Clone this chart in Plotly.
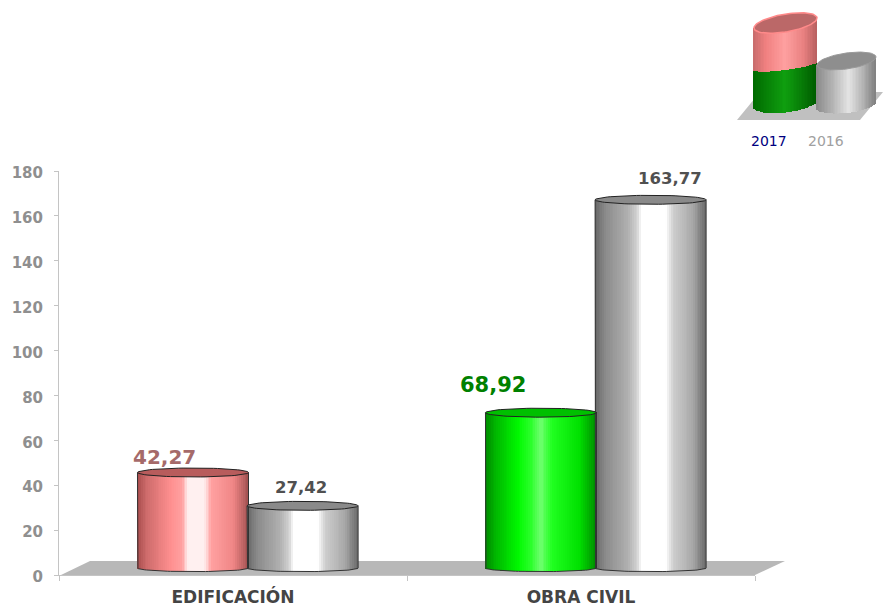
import numpy as np
import plotly.graph_objects as go

categories = ["EDIFICACIÓN", "OBRA CIVIL"]
values_2017 = [42.27, 68.92]
values_2016 = [27.42, 163.77]
labels_2017 = ["42,27", "68,92"]
labels_2016 = ["27,42", "163,77"]
y_ticks = [0, 20, 40, 60, 80, 100, 120, 140, 160, 180]
legend_names = ["2017", "2016"]

W, H = 883, 607
PINK = [(0, "#a84c4c"), (.08, "#cc6a6a"), (.3, "#ff8f8f"), (.4, "#ffa0a0"), (.46, "#fff0f0"), (.6, "#fff0f0"), (.67, "#ffa0a0"), (.87, "#ef8585"), (1, "#a05050")]
GREEN = [(0, "#008a00"), (.1, "#00b800"), (.3, "#00fa00"), (.42, "#30ff30"), (.5, "#70ff70"), (.6, "#20ff20"), (.85, "#00e000"), (1, "#008a00")]
GRAY = [(0, "#666666"), (.1, "#8c8c8c"), (.3, "#b0b0b0"), (.39, "#d8d8d8"), (.42, "#ffffff"), (.64, "#ffffff"), (.7, "#cfcfcf"), (.88, "#a8a8a8"), (1, "#6a6a6a")]
LPINK = [(0, "#c86c6c"), (.2, "#f08080"), (.5, "#ffa0a0"), (.8, "#e88080"), (1, "#b86060")]
LGREEN = [(0, "#006a00"), (.5, "#0f9f0f"), (1, "#005c00")]
LGRAY = [(0, "#8a8a8a"), (.3, "#b8b8b8"), (.55, "#e4e4e4"), (.8, "#b0b0b0"), (1, "#808080")]


def hexrgb(c):
    return [int(c[i:i + 2], 16) for i in (1, 3, 5)]


def ramp(stops, t):
    for (a, ca), (b, cb) in zip(stops, stops[1:]):
        if t <= b:
            f = (t - a) / (b - a)
            m = [round(p + (q - p) * f) for p, q in zip(hexrgb(ca), hexrgb(cb))]
            return f"rgb({m[0]},{m[1]},{m[2]})"
    return stops[-1][1]


def strips(cx, w, low, high, low_ry, high_ry, stops, xa="x", ya="y", n=60, tilt_low=0, tilt_high=0):
    """A cylinder body: many thin bars, each with a curved foot."""
    u = (np.arange(n) + .5) / n * 2 - 1
    arc = np.sqrt(1 - u ** 2)
    base = low + tilt_low * u + low_ry * arc
    top = high + tilt_high * u + high_ry * arc
    return go.Bar(x=cx + u * w / 2, y=top - base, base=base, width=w / n * 1.25,
                  marker=dict(color=[ramp(stops, (v + 1) / 2) for v in u], line=dict(width=0)),
                  xaxis=xa, yaxis=ya, showlegend=False, hoverinfo="skip")


def ellipse(cx, w, cy, ry, fill, line, xa="x", ya="y", tilt=0, lw=1):
    t = np.linspace(0, 2 * np.pi, 80)
    return go.Scatter(x=cx + w / 2 * np.cos(t), y=cy + ry * np.sin(t) + tilt * np.cos(t),
                      mode="lines", fill="toself", fillcolor=fill, line=dict(color=line, width=lw),
                      xaxis=xa, yaxis=ya, showlegend=False, hoverinfo="skip")


def outline(cx, w, low, high, ry, color):
    t = np.linspace(np.pi, 0, 50)
    xs = np.r_[cx - w / 2, cx + w / 2 * np.cos(t), cx + w / 2]
    ys = np.r_[high, low + ry * (-np.sin(t)), high]
    return go.Scatter(x=xs, y=ys, mode="lines", line=dict(color=color, width=1),
                      showlegend=False, hoverinfo="skip")


fig = go.Figure()
WIDTH = 0.319
LIFT, FOOT, RY_TOP, RY_FOOT = 3.4, 3.1, 2.0, 1.6
series = [(values_2017, -0.115, None), (values_2016, 0.2, GRAY)]
for vals, off, col in series:
    for i, v in enumerate(vals):
        stops = col or (PINK if i == 0 else GREEN)
        cap = "#8a8a8a" if col else ("#b85c5c" if i == 0 else "#00c000")
        fig.add_trace(strips(i + off, WIDTH, FOOT, v + LIFT, -RY_FOOT, 0, stops))
        fig.add_trace(outline(i + off, WIDTH, FOOT, v + LIFT, RY_FOOT, "#333333"))
        fig.add_trace(ellipse(i + off, WIDTH, v + LIFT, RY_TOP, cap, "#222222"))

# small pictorial legend, drawn on its own pixel-scaled hidden axes
fig.add_trace(strips(785.5, 63, 103.5, 66, 9, 4, LGREEN, "x2", "y2", 40, -3.5, -4))
fig.add_trace(strips(785.5, 63, 66, 23, 4, 0, LPINK, "x2", "y2", 40, -4, -5))
fig.add_trace(ellipse(785.5, 63, 23, 9, "#bb6868", "#ff8a8a", "x2", "y2", -5, 1.5))
fig.add_trace(strips(846.5, 59, 105, 61, 8, 0, LGRAY, "x2", "y2", 40, -3, -4))
fig.add_trace(ellipse(846.5, 59, 61, 8, "#8e8e8e", "#9a9a9a", "x2", "y2", -4))


def px(x):
    return x / W


def py(y):
    return 1 - y / H


def poly(pts):
    return "M " + " L ".join(f"{px(a):.5f} {py(b):.5f}" for a, b in pts) + " Z"


shapes = [
    dict(type="path", xref="paper", yref="paper", layer="below", line=dict(width=0), fillcolor="#b8b8b8",
         path=poly([(61, 575), (755, 575), (785, 561), (90, 561)])),
    dict(type="path", xref="paper", yref="paper", layer="below", line=dict(width=0), fillcolor="#c0c0c0",
         path=poly([(737, 120), (860, 120), (883, 92), (760, 92)])),
]

anns = []
for i, (v, t) in enumerate(zip(values_2017, labels_2017)):
    anns.append(dict(x=i - (0.196 if i == 0 else 0.253), y=v, text=f"<b>{t}</b>", xref="x", yref="y", showarrow=False,
                     yshift=(23 if i == 0 else 35), font=dict(family="DejaVu Sans", size=21 if i else 20, color="#a56a6a" if i == 0 else "#008000")))
for i, (v, t) in enumerate(zip(values_2016, labels_2016)):
    anns.append(dict(x=i + (0.194 if i == 0 else 0.256), y=v, text=f"<b>{t}</b>", xref="x", yref="y", showarrow=False,
                     yshift=(26 if i == 0 else 29), font=dict(family="DejaVu Sans", size=16.5, color="#505050")))
for name, cx, colr in zip(legend_names, [769, 826], ["#000080", "#a0a0a0"]):
    anns.append(dict(x=px(cx), y=py(141), text=name, xref="paper", yref="paper", showarrow=False,
                     xanchor="center", yanchor="middle",
                     font=dict(family="DejaVu Sans", size=14, color=colr)))

fig.update_layout(
    width=W, height=H, margin=dict(l=0, r=0, t=0, b=0), autosize=False,
    paper_bgcolor="white", plot_bgcolor="rgba(0,0,0,0)", barmode="overlay", bargap=0,
    showlegend=False, shapes=shapes, annotations=anns,
    xaxis=dict(domain=[px(59), px(755)], range=[-0.5, 1.5], tickmode="array", tickvals=[0, 1], automargin=False,
               ticktext=[f"<b>{c}</b>" for c in categories], ticks="", showgrid=False, zeroline=False,
               showline=True, linecolor="#c4c4c4", linewidth=1, anchor="y", ticklabelstandoff=7,
               tickfont=dict(family="DejaVu Sans", size=17, color="#444444"),
               minor=dict(tickmode="array", tickvals=[-0.5, 0.5, 1.5], ticks="outside", ticklen=5, tickcolor="#c4c4c4", showgrid=False)),
    yaxis=dict(domain=[py(575), py(171)], range=[0, 180], tickmode="array", tickvals=y_ticks, automargin=False,
               ticktext=[f"<b>{t}</b>" for t in y_ticks], ticks="outside", ticklen=4, tickcolor="#c4c4c4",
               showgrid=False, zeroline=False, showline=True, linecolor="#c4c4c4", linewidth=1, anchor="x",
               ticklabelstandoff=8, ticklabelshift=2, tickfont=dict(family="DejaVu Sans", size=15, color="#8f8f8f")),
    xaxis2=dict(domain=[px(720), 1], range=[720, 883], visible=False, anchor="y2", automargin=False),
    yaxis2=dict(domain=[py(125), 1], range=[125, 0], visible=False, anchor="x2", automargin=False),
)
fig.write_html("out.html", config={"displayModeBar": False},
               post_script="document.body.style.margin='0';document.documentElement.style.overflow='hidden';")
